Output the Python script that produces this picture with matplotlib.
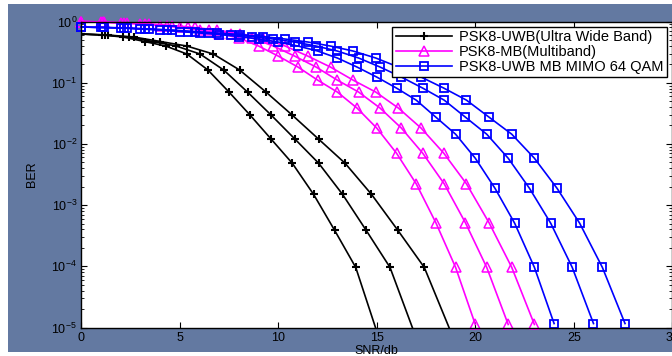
import matplotlib
matplotlib.use("Agg")
import matplotlib.pyplot as plt
from matplotlib.patches import Rectangle
from matplotlib.ticker import LogLocator

plt.rcParams['font.family'] = ['Liberation Sans', 'DejaVu Sans']

# ---- data ----
legend_labels = ["PSK8-UWB(Ultra Wide Band)", "PSK8-MB(Multiband)", "PSK8-UWB MB MIMO 64 QAM"]

# Black family (PSK8-UWB): shared BER values, three SNR grids
ber_uwb = [0.624, 0.601, 0.557, 0.471, 0.397, 0.294, 0.161, 0.0702, 0.0295,
           0.01194, 4.83e-3, 1.50e-3, 3.87e-4, 9.6e-5, 8.6e-6]
snr_uwb_1 = [0, 1.07, 2.14, 3.21, 4.29, 5.36, 6.43, 7.50, 8.57, 9.64, 10.71, 11.79, 12.86, 13.93, 15.0]
snr_uwb_2 = [0, 1.21, 2.41, 3.62, 4.82, 6.03, 7.23, 8.44, 9.64, 10.85, 12.05, 13.26, 14.46, 15.67, 16.88]
snr_uwb_3 = [0, 1.34, 2.68, 4.02, 5.36, 6.70, 8.04, 9.38, 10.71, 12.05, 13.39, 14.73, 16.07, 17.41, 18.75]

# Magenta family (PSK8-MB)
ber_mb = [1.0, 0.981, 0.945, 0.910, 0.860, 0.798, 0.726, 0.636, 0.537, 0.397, 0.272,
          0.180, 0.110, 0.0702, 0.0384, 0.0181, 7.05e-3, 2.23e-3, 5.13e-4, 9.6e-5, 1.12e-5]
snr_mb_1 = [0, 1, 2, 3, 4, 5, 6, 7, 8, 9, 10, 11, 12, 13, 14, 15, 16, 17, 18, 19, 20]
snr_mb_2 = [0, 1.08, 2.17, 3.25, 4.33, 5.42, 6.50, 7.58, 8.67, 9.75, 10.83, 11.92, 13.0,
            14.08, 15.17, 16.25, 17.33, 18.42, 19.50, 20.58, 21.67]
snr_mb_3 = [0, 1.15, 2.30, 3.45, 4.60, 5.75, 6.90, 8.05, 9.20, 10.35, 11.50, 12.65, 13.80,
            14.95, 16.10, 17.25, 18.40, 19.55, 20.70, 21.85, 23.0]

# Blue family (PSK8-UWB MB MIMO 64 QAM)
ber_mimo = [0.813, 0.798, 0.783, 0.754, 0.726, 0.686, 0.648, 0.613, 0.568, 0.517, 0.462,
            0.397, 0.329, 0.253, 0.180, 0.1235, 0.0816, 0.0519, 0.0273, 0.0144, 5.83e-3,
            1.88e-3, 5.04e-4, 9.6e-5, 1.16e-5]
snr_mimo_1 = [0, 1, 2, 3, 4, 5, 6, 7, 8, 9, 10, 11, 12, 13, 14, 15, 16, 17, 18, 19, 20,
              21, 22, 23, 24]
snr_mimo_2 = [0, 1.08, 2.17, 3.25, 4.33, 5.42, 6.50, 7.58, 8.67, 9.75, 10.83, 11.92, 13.0,
              14.08, 15.17, 16.25, 17.33, 18.42, 19.50, 20.58, 21.67, 22.75, 23.83, 24.92, 26.0]
snr_mimo_3 = [0, 1.15, 2.30, 3.45, 4.60, 5.75, 6.90, 8.05, 9.20, 10.35, 11.50, 12.65, 13.80,
              14.95, 16.10, 17.25, 18.40, 19.55, 20.70, 21.85, 23.0, 24.15, 25.30, 26.45, 27.60]

xticks = [0, 5, 10, 15, 20, 25, 30]

# ---- figure ----
W, H = 672, 356
fig = plt.figure(figsize=(W / 100, H / 100), dpi=100, facecolor='white')
bg = '#6379a1'
fig.patches.append(Rectangle((8 / W, 4 / H), 1 - 8 / W, 1 - 8 / H, transform=fig.transFigure,
                             facecolor=bg, edgecolor='none', zorder=-10))

left = 81.3 / W
right = 672.3 / W
top = 1 - 21.5 / H
bottom = 1 - 327.5 / H
ax = fig.add_axes([left, bottom, right - left, top - bottom])
ax.set_facecolor('white')

lw = 1.2
h1 = None
for x in (snr_uwb_1, snr_uwb_2, snr_uwb_3):
    l, = ax.semilogy(x, ber_uwb, color='black', lw=lw, marker='+', ms=6, mew=1.5)
    h1 = h1 or l
h2 = None
for x in (snr_mb_1, snr_mb_2, snr_mb_3):
    l, = ax.semilogy(x, ber_mb, color='#ff00ff', lw=lw, marker='^', ms=7, mew=1.1,
                     mfc='none', clip_on=False)
    h2 = h2 or l
h3 = None
for x in (snr_mimo_1, snr_mimo_2, snr_mimo_3):
    l, = ax.semilogy(x, ber_mimo, color='#0000ff', lw=lw, marker='s', ms=6, mew=1.3,
                     mfc='none', clip_on=False)
    h3 = h3 or l

ax.set_xlim(0, 30)
ax.set_ylim(1e-5, 1)
ax.set_xticks(xticks)
ax.set_xticklabels([str(t) for t in xticks])
ax.yaxis.set_major_locator(LogLocator(base=10, numticks=10))
ax.yaxis.set_minor_locator(LogLocator(base=10, subs=range(2, 10), numticks=20))
ax.tick_params(which='both', direction='in', top=True, right=True, labelsize=9, colors='black')
ax.tick_params(which='major', length=4, width=0.8, pad=3)
ax.tick_params(which='minor', length=2, width=0.6)
for s in ax.spines.values():
    s.set_linewidth(1.0)
    s.set_color('black')

ax.set_xlabel('SNR/db', fontsize=9, labelpad=1)
ax.set_ylabel('BER', fontsize=9, labelpad=10)

leg = ax.legend([h1, h2, h3], legend_labels, loc='upper right', fontsize=10.5,
                fancybox=False, framealpha=1, edgecolor='black', borderaxespad=0.35,
                handlelength=3.9, handletextpad=0.45, borderpad=0.25, labelspacing=0.05)
leg.get_frame().set_linewidth(1.0)

fig.savefig('out.png', dpi=100, facecolor='white')
